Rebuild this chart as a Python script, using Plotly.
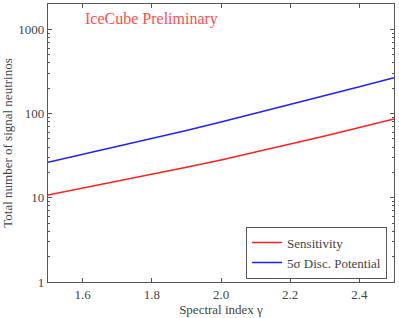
import plotly.graph_objects as go
import numpy as np

gamma = [1.5, 1.6, 1.7, 1.8, 1.9, 2.0, 2.1, 2.2, 2.3, 2.4, 2.5]
sensitivity = [10.8, 13.0, 15.6, 19.0, 23.0, 28.1, 34.9, 43.4, 54.3, 68.4, 86.3]
discovery = [26.4, 32.7, 40.6, 50.5, 63.1, 79.4, 100.7, 127.9, 162.9, 208.0, 267.0]
x_ticks = [1.6, 1.8, 2.0, 2.2, 2.4]
x_tick_text = ["1.6", "1.8", "2.0", "2.2", "2.4"]

FONT = "Liberation Serif"
AX = "#555555"

fig = go.Figure()
fig.add_trace(go.Scatter(x=gamma, y=sensitivity, mode="lines", name="Sensitivity",
                         line=dict(color="#ff2020", width=1.5)))
fig.add_trace(go.Scatter(x=gamma, y=discovery, mode="lines", name="5σ Disc. Potential",
                         line=dict(color="#2020ff", width=1.5)))

fig.update_layout(
    width=399, height=318,
    margin=dict(l=48, r=5, t=4, b=36),
    plot_bgcolor="white", paper_bgcolor="white",
    font=dict(family=FONT, size=13, color="#444444"),
    showlegend=True,
    legend=dict(x=0.98, y=0.012, xanchor="right", yanchor="bottom",
                bordercolor=AX, borderwidth=1, bgcolor="white",
                font=dict(family=FONT, size=13, color="#444444"),
                itemwidth=30, tracegroupgap=0),
    xaxis=dict(range=[1.5, 2.5], tickmode="array", tickvals=x_ticks, ticktext=x_tick_text,
               ticks="inside", ticklen=4, tickcolor=AX, showline=True, linecolor=AX, linewidth=1.2,
               mirror="ticks", showgrid=False, zeroline=False,
               title=dict(text="Spectral index γ", standoff=1, font=dict(size=13))),
    yaxis=dict(type="log", range=[0, np.log10(2000)], dtick=1, exponentformat="none",
               ticks="inside", ticklen=4, tickcolor=AX, showline=True, linecolor=AX, linewidth=1.2,
               mirror="ticks", showgrid=False, zeroline=False,
               minor=dict(ticks="inside", ticklen=2, tickcolor=AX, dtick="D1", showgrid=False),
               title=dict(text="Total number of signal neutrinos", standoff=6, font=dict(size=13))),
)

fig.add_annotation(text="IceCube Preliminary", xref="paper", yref="paper",
                   x=0.10, y=0.945, xanchor="left", yanchor="middle", showarrow=False,
                   font=dict(family=FONT, size=16, color="#ff4d4d"))

fig.write_html("out.html", config={"displayModeBar": False},
               post_script="document.body.style.margin='0';document.body.style.padding='0';")
